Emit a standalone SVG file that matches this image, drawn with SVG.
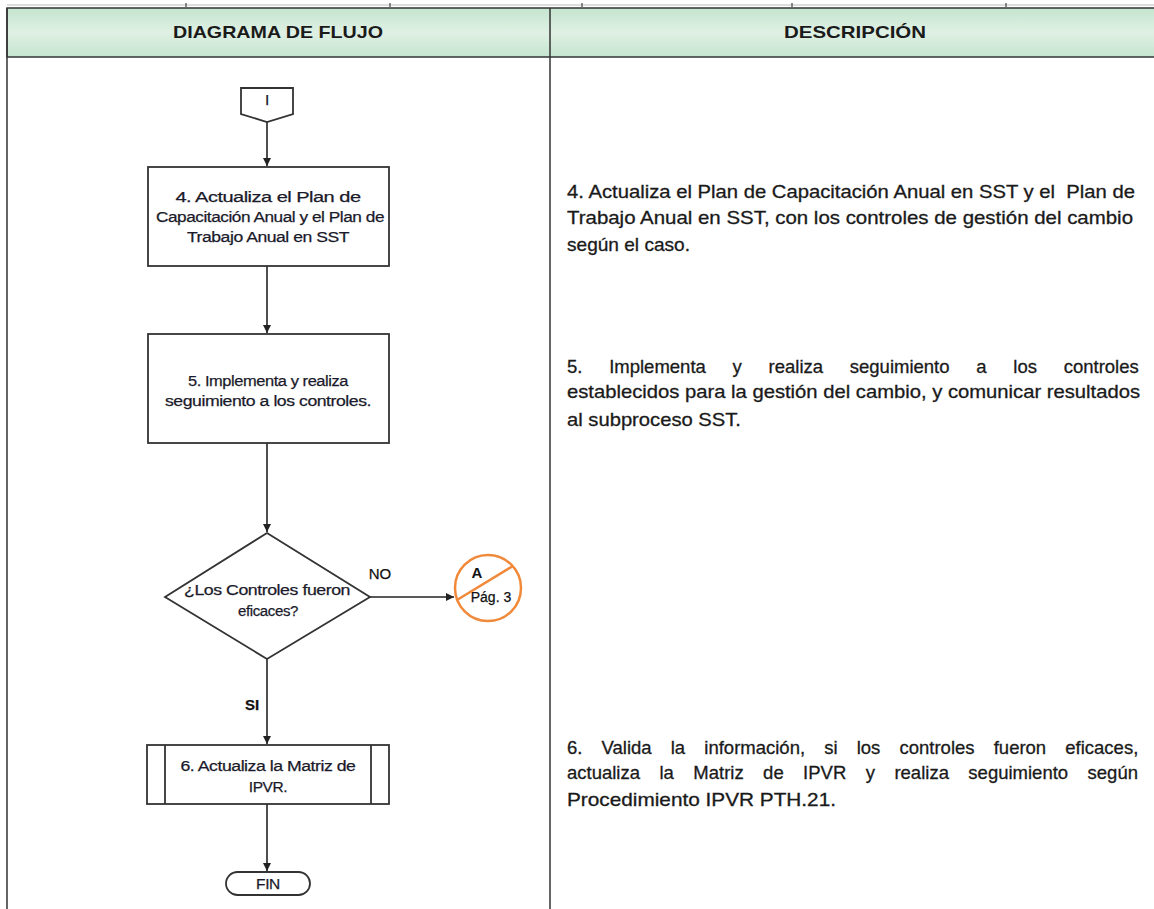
<svg xmlns="http://www.w3.org/2000/svg" width="1154" height="909" viewBox="0 0 1154 909">
<style>
.ln{stroke:#222;stroke-width:1.6;fill:none}
.nd{fill:#fff;stroke:#333;stroke-width:1.8}
.ft{font-family:"Liberation Sans",Arial,sans-serif;font-size:15.5px;fill:#1a1a2a;text-anchor:middle;letter-spacing:-0.4px;stroke:#1a1a2a;stroke-width:0.25}
.ds{font-family:"Liberation Sans",Arial,sans-serif;font-size:18.5px;fill:#1a1a1a;stroke:#1a1a1a;stroke-width:0.3}
.hd{font-family:"Liberation Sans",Arial,sans-serif;font-size:17px;font-weight:bold;fill:#1a1a1a;text-anchor:middle}
.lb{font-family:"Liberation Sans",Arial,sans-serif;font-size:15px;fill:#111;text-anchor:middle;stroke:#111;stroke-width:0.25}
</style>
<defs>
<linearGradient id="hg" x1="0" y1="0" x2="0" y2="1">
<stop offset="0" stop-color="#c5e5cf"/>
<stop offset="0.5" stop-color="#dff0e4"/>
<stop offset="1" stop-color="#c5e5cf"/>
</linearGradient>
<marker id="ar" viewBox="0 0 10 10" refX="10" refY="5" markerWidth="8" markerHeight="8" orient="auto" markerUnits="userSpaceOnUse">
<path d="M0,0 L10,5 L0,10 z" fill="#222"/>
</marker>
</defs>
<rect width="1154" height="909" fill="#fff"/>
<g id="table">
<line x1="7" y1="5" x2="1154" y2="5" stroke="#bbb" stroke-width="1"/>
<g stroke="#666" stroke-width="1.5">
<line x1="186" y1="3" x2="186" y2="7"/>
<line x1="390" y1="3" x2="390" y2="7"/>
<line x1="582" y1="3" x2="582" y2="7"/>
<line x1="792" y1="3" x2="792" y2="7"/>
<line x1="1006" y1="3" x2="1006" y2="7"/>
</g>
<rect x="7" y="8" width="1150" height="49" fill="url(#hg)" stroke="#333" stroke-width="1.5"/>
<line x1="7" y1="8" x2="7" y2="909" stroke="#333" stroke-width="1.5"/>
<line x1="550" y1="8" x2="550" y2="909" stroke="#333" stroke-width="1.5"/>
<text class="hd" x="278" y="38" textLength="210" lengthAdjust="spacingAndGlyphs">DIAGRAMA DE FLUJO</text>
<text class="hd" x="855" y="38" textLength="142" lengthAdjust="spacingAndGlyphs">DESCRIPCIÓN</text>
</g>
<g id="connectors">
<line class="ln" x1="267" y1="122" x2="267" y2="166" marker-end="url(#ar)"/>
<line class="ln" x1="267" y1="266" x2="267" y2="333" marker-end="url(#ar)"/>
<line class="ln" x1="267" y1="443" x2="267" y2="532" marker-end="url(#ar)"/>
<line class="ln" x1="370" y1="597" x2="454" y2="597" marker-end="url(#ar)"/>
<line class="ln" x1="267" y1="659" x2="267" y2="744" marker-end="url(#ar)"/>
<line class="ln" x1="267" y1="804" x2="267" y2="871" marker-end="url(#ar)"/>
<text class="lb" x="380" y="579">NO</text>
<text class="lb" x="252" y="710" font-weight="bold">SI</text>
</g>
<g id="start">
<path class="nd" d="M241,88 H293 V114 L267,122 L241,114 Z"/>
<text class="ft" x="267" y="105">I</text>
</g>
<g id="step4">
<rect class="nd" x="148" y="167" width="241" height="99"/>
<text class="ft" x="268" y="202" textLength="185" lengthAdjust="spacingAndGlyphs">4. Actualiza el Plan de</text>
<text class="ft" x="270" y="222" textLength="228" lengthAdjust="spacingAndGlyphs">Capacitación Anual y el Plan de</text>
<text class="ft" x="268" y="242" textLength="162" lengthAdjust="spacingAndGlyphs">Trabajo Anual en SST</text>
</g>
<g id="step5">
<rect class="nd" x="148" y="334" width="241" height="109"/>
<text class="ft" x="268" y="386" textLength="160" lengthAdjust="spacingAndGlyphs">5. Implementa y realiza</text>
<text class="ft" x="268" y="406" textLength="206" lengthAdjust="spacingAndGlyphs">seguimiento a los controles.</text>
</g>
<g id="decision">
<path class="nd" d="M267,533 L370,597 L267,659 L165,597 Z"/>
<text class="ft" x="267" y="595" textLength="166" lengthAdjust="spacingAndGlyphs">¿Los Controles fueron</text>
<text class="ft" x="268" y="616" textLength="60" lengthAdjust="spacingAndGlyphs">eficaces?</text>
</g>
<g id="connectorA">
<circle cx="488" cy="588" r="33" fill="#fff" stroke="#f0893a" stroke-width="2.5"/>
<line x1="457" y1="600" x2="513" y2="566" stroke="#f0893a" stroke-width="2.5"/>
<text x="477" y="578" font-family="Liberation Sans,Arial,sans-serif" font-size="15" font-weight="bold" fill="#111" text-anchor="middle">A</text>
<text x="491" y="602" font-family="Liberation Sans,Arial,sans-serif" font-size="14" fill="#111" stroke="#111" stroke-width="0.25" text-anchor="middle">Pág. 3</text>
</g>
<g id="step6">
<rect class="nd" x="147" y="745" width="242" height="59"/>
<line x1="165" y1="745" x2="165" y2="804" stroke="#333" stroke-width="1.8"/>
<line x1="371" y1="745" x2="371" y2="804" stroke="#333" stroke-width="1.8"/>
<text class="ft" x="268" y="771" textLength="175" lengthAdjust="spacingAndGlyphs">6. Actualiza la Matriz de</text>
<text class="ft" x="268" y="792">IPVR.</text>
</g>
<g id="end">
<rect class="nd" x="226" y="872" width="84" height="23" rx="11.5"/>
<text class="ft" x="268" y="889">FIN</text>
</g>
<g id="desc4">
<text class="ds" x="567" y="198" textLength="568" lengthAdjust="spacingAndGlyphs" style="white-space:pre">4. Actualiza el Plan de Capacitación Anual en SST y el  Plan de</text>
<text class="ds" x="567" y="224" textLength="566" lengthAdjust="spacingAndGlyphs">Trabajo Anual en SST, con los controles de gestión del cambio</text>
<text class="ds" x="567" y="251" textLength="123" lengthAdjust="spacingAndGlyphs">según el caso.</text>
</g>
<g id="desc5">
<text class="ds" x="567" y="373" word-spacing="21.6">5. Implementa y realiza seguimiento a los controles</text>
<text class="ds" x="567" y="398" textLength="573" lengthAdjust="spacingAndGlyphs">establecidos para la gestión del cambio, y comunicar resultados</text>
<text class="ds" x="567" y="426" textLength="174" lengthAdjust="spacingAndGlyphs">al subproceso SST.</text>
</g>
<g id="desc6">
<text class="ds" x="567" y="754" word-spacing="14.0">6. Valida la información, si los controles fueron eficaces,</text>
<text class="ds" x="567" y="779" word-spacing="14.3">actualiza la Matriz de IPVR y realiza seguimiento según</text>
<text class="ds" x="567" y="806" textLength="269" lengthAdjust="spacingAndGlyphs">Procedimiento IPVR PTH.21.</text>
</g>
</svg>
